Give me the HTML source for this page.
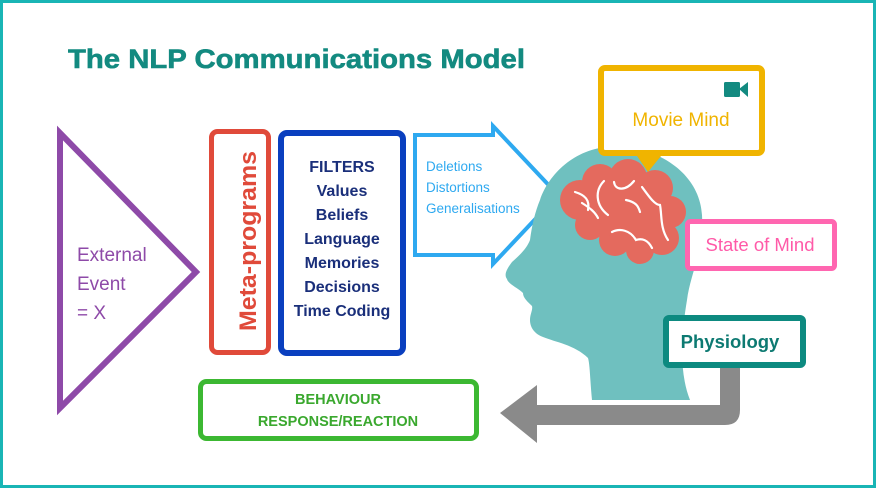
<!DOCTYPE html>
<html><head><meta charset="utf-8"><style>
html,body{margin:0;padding:0;background:#fff}
svg{display:block}
text{font-family:"Liberation Sans",sans-serif}
</style></head><body>
<svg width="876" height="488" viewBox="0 0 876 488" xmlns="http://www.w3.org/2000/svg">
<rect x="1.5" y="1.5" width="873" height="485" fill="#fff" stroke="#19b5b5" stroke-width="3"/>
<text x="68" y="68" font-size="27" font-weight="bold" fill="#138a80" stroke="#138a80" stroke-width="0.6" textLength="457" lengthAdjust="spacingAndGlyphs">The NLP Communications Model</text>

<polygon points="60,133 60,408 196,272" fill="none" stroke="#8e4aa8" stroke-width="6" stroke-linejoin="miter"/>
<g font-size="19" fill="#8e4aa8">
<text x="77" y="261">External</text>
<text x="77" y="290">Event</text>
<text x="77" y="319">= X</text>
</g>

<rect x="211.5" y="131.5" width="57" height="221" rx="6" fill="none" stroke="#e04a3a" stroke-width="5"/>
<text transform="translate(256,241) rotate(-90)" text-anchor="middle" font-size="24" font-weight="bold" fill="#e04a3a" textLength="180" lengthAdjust="spacingAndGlyphs">Meta-programs</text>

<rect x="281" y="133" width="122" height="220" rx="6" fill="none" stroke="#0a3fbf" stroke-width="6"/>
<g font-size="16" font-weight="bold" fill="#1a2f7a" text-anchor="middle">
<text x="342" y="172">FILTERS</text>
<text x="342" y="196">Values</text>
<text x="342" y="220">Beliefs</text>
<text x="342" y="244">Language</text>
<text x="342" y="268">Memories</text>
<text x="342" y="292">Decisions</text>
<text x="342" y="316">Time Coding</text>
</g>

<polygon points="415,135 493,135 493,126 558,195 493,264 493,255 415,255" fill="none" stroke="#2ea9f0" stroke-width="4" stroke-linejoin="miter"/>
<g font-size="13.5" fill="#2ea9f0">
<text x="426" y="171">Deletions</text>
<text x="426" y="192">Distortions</text>
<text x="426" y="213">Generalisations</text>
</g>

<path d="M610,147 C660,145 700,175 702,215 C704,250 690,275 687,300 C682,330 678,370 690,400 L592,400 C590,380 590,365 588,358 C575,345 555,342 543,337 C535,334 530,328 530,320 C530,314 533,310 532,306 C528,302 523,298 523,293 C518,288 508,284 507,279 C504,275 506,270 512,262 C520,255 527,248 530,240 C532,225 535,212 540,200 C548,175 575,148 610,147 Z" fill="#6fc0bf"/>

<g fill="#e46a5e">
<circle cx="580" cy="200" r="20"/>
<circle cx="600" cy="182" r="18"/>
<circle cx="628" cy="178" r="19"/>
<circle cx="655" cy="188" r="18"/>
<circle cx="670" cy="212" r="16"/>
<circle cx="662" cy="238" r="17"/>
<circle cx="640" cy="250" r="14"/>
<circle cx="615" cy="240" r="16"/>
<circle cx="590" cy="225" r="15"/>
<circle cx="625" cy="212" r="28"/>
<circle cx="648" cy="222" r="22"/>
</g>
<g fill="none" stroke="#fff" stroke-width="2.2" stroke-linecap="round">
<path d="M575,192 C585,195 590,200 588,210"/>
<path d="M582,203 C590,208 595,212 598,218"/>
<path d="M604,181 C595,190 595,205 608,215"/>
<path d="M614,182 C615,190 625,192 634,181"/>
<path d="M626,200 C635,202 638,205 640,212"/>
<path d="M642,187 C650,198 655,205 660,205 C662,215 660,228 668,240"/>
<path d="M612,232 C620,228 630,230 636,240 C642,238 648,240 652,248"/>
</g>

<rect x="601" y="68" width="161" height="85" rx="4" fill="#fff" stroke="#f0b400" stroke-width="6"/>
<polygon points="637,156 661,156 648,172" fill="#f0b400"/>
<text x="681" y="126" text-anchor="middle" font-size="19" fill="#f0b400">Movie Mind</text>
<rect x="724" y="82" width="16" height="15" rx="1.5" fill="#138a80"/>
<polygon points="739,89 748,82 748,97" fill="#138a80"/>

<rect x="687.5" y="221.5" width="147" height="47" rx="3" fill="#fff" stroke="#ff66b0" stroke-width="5"/>
<text x="760" y="251" text-anchor="middle" font-size="18.5" fill="#ff5aa8">State of Mind</text>

<path d="M720,367 L740,367 L740,410 Q740,425 725,425 L537,425 L537,443 L500,413 L537,385 L537,405 L720,405 Z" fill="#8a8a8a"/>

<rect x="666" y="318" width="137" height="47" rx="3" fill="#fff" stroke="#0d8a80" stroke-width="6"/>
<text x="730" y="348" text-anchor="middle" font-size="18.5" font-weight="bold" fill="#0d7a72">Physiology</text>

<rect x="200.5" y="381.5" width="276" height="57" rx="6" fill="none" stroke="#3cb832" stroke-width="5"/>
<g font-size="14.5" font-weight="bold" fill="#3aa82e" text-anchor="middle">
<text x="338" y="404">BEHAVIOUR</text>
<text x="338" y="426">RESPONSE/REACTION</text>
</g>
</svg>
</body></html>
